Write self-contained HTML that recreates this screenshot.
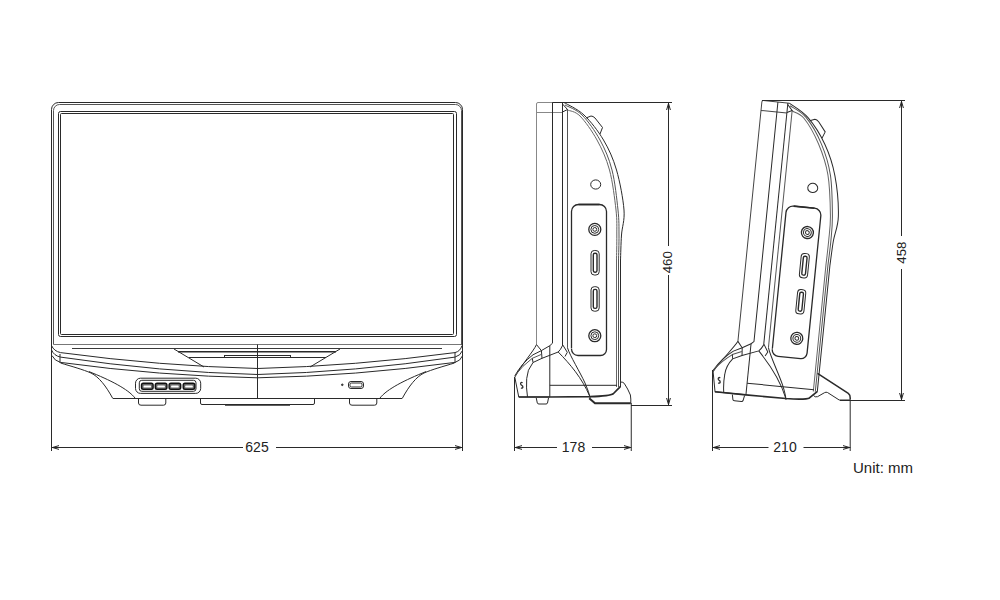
<!DOCTYPE html>
<html><head><meta charset="utf-8">
<style>
html,body{margin:0;padding:0;background:#fff;}
body{width:1000px;height:600px;overflow:hidden;}
svg{display:block;}
text{font-family:"Liberation Sans",sans-serif;fill:#222;}
</style></head>
<body>
<svg width="1000" height="600" viewBox="0 0 1000 600">
<defs>
<g id="body" fill="none" stroke="#2a2a2a" stroke-width="1">
  <!-- main vertical structure -->
  <path d="M536.5,344.6 V104 Q536.5,102.5 538,102.5 H564" style="stroke:var(--l1)"/>
  <path d="M536.5,112.5 H562.5" style="stroke:var(--l1)"/>
  <path d="M552.5,102.5 V343.2 L549.8,345.7"/>
  <path d="M562.5,102.5 V345"/>
  <path d="M567.5,109 V347.8" stroke="#555"/>
  <path d="M562.5,104 L567.5,109.5 L562.5,112"/>
  <!-- back curves -->
  <path d="M564.00,102.50 C567.33,104.58 577.42,108.75 584.00,115.00 C590.58,121.25 598.08,130.83 603.50,140.00 C608.92,149.17 613.08,158.33 616.50,170.00 C619.92,181.67 623.17,199.17 624.00,210.00 C624.83,220.83 622.08,226.67 621.50,235.00 C620.92,243.33 620.67,255.83 620.50,260.00 V387"/>
  <path d="M565.00,105.00 C567.83,106.67 576.17,109.17 582.00,115.00 C587.83,120.83 595.00,130.83 600.00,140.00 C605.00,149.17 609.00,158.33 612.00,170.00 C615.00,181.67 616.83,199.17 618.00,210.00 C619.17,220.83 618.92,226.67 619.00,235.00 C619.08,243.33 618.58,255.83 618.50,260.00 V387" stroke="#555"/>
  <path d="M567.50,110.00 C569.58,111.00 575.08,111.00 580.00,116.00 C584.92,121.00 592.08,131.00 597.00,140.00 C601.92,149.00 606.33,158.33 609.50,170.00 C612.67,181.67 614.78,199.17 616.00,210.00 C617.22,220.83 616.72,226.67 616.80,235.00 C616.88,243.33 616.55,255.83 616.50,260.00 V387" stroke="#666"/>
  <!-- tab -->
  <path d="M586,118 L591,116 Q593,116 595,118 L602.5,127.5 L600,134"/>
  <!-- small circle -->
  <ellipse cx="595.7" cy="184.5" rx="5" ry="4.6"/>
  <!-- panel -->
  <path stroke-width="1.3" d="M571.5,348.5 V211.5 A7,7 0 0 1 578.5,204.5 H599.5 A7,7 0 0 1 606.5,211.5 V349.5 A6,6 0 0 1 600.5,355.5 H578 A6.5,6.5 0 0 1 571.5,349" />
  <path d="M578.5,204.5 H599.5" stroke-width="1.6"/>
  <!-- coax 1 -->
  <circle cx="594.8" cy="229.4" r="6" stroke-width="1.3"/>
  <circle cx="594.8" cy="229.4" r="3.9"/>
  <circle cx="594.8" cy="229.4" r="1.9"/>
  <!-- port 1 -->
  <rect x="591" y="250.5" width="8.2" height="24.5" rx="3.3"/>
  <rect x="593.3" y="253.2" width="3.7" height="19" rx="1.6" stroke-width="1.4"/>
  <!-- port 2 -->
  <rect x="591" y="286.7" width="8.2" height="24.5" rx="3.3"/>
  <rect x="593.3" y="289.4" width="3.7" height="19" rx="1.6" stroke-width="1.4"/>
  <!-- coax 2 -->
  <circle cx="594.8" cy="335.7" r="6" stroke-width="1.3"/>
  <circle cx="594.8" cy="335.7" r="3.9"/>
  <circle cx="594.8" cy="335.7" r="1.9"/>
  <!-- base -->
  <path d="M536.5,344.6 C533,352 522,364 514.8,377.2 L518.75,397 H549.7"/>
  <path d="M536.5,344.6 L541.4,350.6 L542,358.3"/>
  <path d="M549.8,345.7 L541.4,350.6 L533,354.8 Q522,363 514.8,375.8"/>
  <path d="M541.4,354.4 L532.3,358.3 Q522,366 515.5,375" stroke="#555"/>
  <path d="M562.8,345 Q560.5,350 558.2,352 L542,358.3 L533,362.5 Q527,370 526.7,378.6 Q526,388 527.5,397"/>
  <path d="M532.3,358.3 L533,362.5"/>
  <path d="M562.8,345 L567.3,352.3 L565,356.5"/>
  <path d="M558.2,352 C570,364 582,378 589.6,396"/>
  <path d="M567.5,347.8 C570,356 580,372 585,383 Q589,392 590.2,398"/>
  <path d="M549.8,345.7 V397"/>
  <path d="M549.8,385.3 H617"/>
  <path d="M518.75,397 H549.7 L590,396.7 Q610,396 613.3,393.75 Q617,390 620.4,386.7" stroke-width="1.7"/>
  <path d="M536.25,398 L537.3,403 Q537.6,404 539,404 H546 Q547.2,404 547.5,403 L548.5,398"/>
  <path d="M522.6,382.8 Q520.8,381.8 520.6,383.6 Q520.6,385 521.8,385.3 Q523,385.7 522.9,387.2 Q522.4,388.6 521,387.9" stroke-width="1.3"/>
</g>
<path id="arr" d="M0.5,0 L7,-1.9 M0.5,0 L7,1.9" fill="none" stroke="#222" stroke-width="1"/>
</defs>

<g fill="none" stroke="#2a2a2a" stroke-width="1">
  <!-- ===== FRONT VIEW ===== -->
  <path d="M51.5,451 V109.5 A7,7 0 0 1 58.5,102.5 H455.5 A7,7 0 0 1 462.5,109.5 V451"/>
  <path d="M53.5,344.5 V110.5 A6,6 0 0 1 59.5,104.5 H455.5 A6,6 0 0 1 461.5,110.5 V345" stroke="#555"/>
  <rect x="58.5" y="111.5" width="398" height="225" rx="2"/>
  <rect x="60.5" y="113.5" width="393" height="221" rx="1"/>
  <path d="M53.5,344.5 H461" stroke="#777"/>
  <path d="M72,348.5 H442" stroke="#3a3a3a"/>
  <!-- trapezoid -->
  <path d="M174,349 L204,367 M340,349 L310,367"/>
  <path d="M178,351.8 H336" stroke-width="1.6"/>
  <path d="M189,357.5 H326"/>
  <rect x="224.5" y="355.5" width="66" height="2"/>
  <path d="M257.5,344.5 V398.5"/>
  <!-- bands -->
  <path d="M51.5,345.5 Q54,351.2 60.5,352.6 Q160,366 257.5,368.5 Q355,366 455,352.6 Q460.5,351.2 462,345.5"/>
  <path d="M51.5,350 Q54,355.7 60.5,357.1 Q160,372 257.5,374.5 Q355,372 455,357.1 Q460.5,355.7 462.5,350.5"/>
  <path d="M52,355.6 Q54.5,360.9 60.5,362.4 Q160,376 257.5,377.8 Q355,376 455,362.4 Q460.5,360.9 462.5,355.8"/>
  <path d="M60,354 V363 M455,352.5 V363"/>
  <!-- base curves -->
  <path d="M60.5,363 C72,366.5 83,369.5 91,373 C99,377 106,386 112.8,398.5"/>
  <path d="M89,371.6 C110,380 128,389 135,398"/>
  <path d="M454.5,363 C443,366.5 432,369.5 424,373 C416,377 409,386 402.2,398.5"/>
  <path d="M426,371.6 C405,380 387,389 380,398"/>
  <path d="M113,398.5 H402"/>
  <!-- feet -->
  <path d="M138.5,398.5 V403 Q138.5,405.2 141,405.2 H163.5 Q165.8,405.2 165.8,403 V398.5"/>
  <path d="M349.5,398.5 V403 Q349.5,405.2 352,405.2 H374.5 Q376.8,405.2 376.8,403 V398.5"/>
  <path d="M200.5,398.5 V403 Q200.5,404.5 202,404.5 H313 Q314.5,404.5 314.5,403 V398.5"/>
  <path d="M225,405 H290" stroke-width="1.5"/>
  <!-- USB panel -->
  <rect x="135.5" y="378.2" width="65.2" height="15.2" rx="5"/>
  <rect x="139.3" y="380.3" width="56.7" height="11" rx="2.5"/>
  <rect x="141.5" y="383.2" width="11.6" height="6.2" rx="1.8" fill="#666" stroke="#111" stroke-width="1.4"/>
  <rect x="143.5" y="385.6" width="7.6" height="2" rx="0.6" fill="#fff" stroke="none"/>
  <rect x="155.3" y="383.2" width="11.6" height="6.2" rx="1.8" fill="#666" stroke="#111" stroke-width="1.4"/>
  <rect x="157.3" y="385.6" width="7.6" height="2" rx="0.6" fill="#fff" stroke="none"/>
  <rect x="169.1" y="383.2" width="11.6" height="6.2" rx="1.8" fill="#666" stroke="#111" stroke-width="1.4"/>
  <rect x="171.1" y="385.6" width="7.6" height="2" rx="0.6" fill="#fff" stroke="none"/>
  <rect x="183.2" y="383.2" width="11.6" height="6.2" rx="1.8" fill="#666" stroke="#111" stroke-width="1.4"/>
  <rect x="185.2" y="385.6" width="7.6" height="2" rx="0.6" fill="#fff" stroke="none"/>
  <!-- right USB -->
  <rect x="348.5" y="381.5" width="15" height="7" rx="2.5"/>
  <rect x="350" y="383" width="12" height="4" rx="1.5"/>
  <circle cx="342.3" cy="384.8" r="0.8" fill="#555"/>

  <!-- dim 625 -->
  <path d="M51.5,447.5 H243 M276,447.5 H462.5"/>

  <!-- ===== SIDE VIEW 1 ===== -->
  <use href="#body" style="--l1:#888"/>
  <path d="M552.5,102.5 H672"/>
  <path d="M514.5,377 V451"/>
  <path d="M620.8,382 Q623,382 624.2,383.3 Q628,389 630.4,395 Q631,399 630.8,403.3"/>
  <path d="M630.8,403.3 H595 L589.2,398.3" stroke-width="2"/>
  <path d="M631,405.5 H672"/>
  <path d="M631.25,403 V451"/>
  <path d="M668.5,102.5 V246 M668.5,275 V405.5"/>
  <path d="M514.5,447.5 H557 M592,447.5 H631.25"/>

  <!-- ===== SIDE VIEW 2 ===== -->
  <use href="#body" style="--l1:#444" transform="translate(762.5,100.5) rotate(5.71) translate(-537,-102.5)"/>
  <path d="M762,100.5 H905"/>
  <path d="M712.5,370 V451"/>
  <path d="M817.5,373.3 L848.3,393.3 Q850.5,395 850.2,398 V399.8" stroke-width="1.5"/>
  <path d="M850,400 H839.2 L827.5,392.5 Q826,391.8 824.5,392.7 L817.5,396.7 Q815,397.5 813.5,395.5"/>
  <path d="M840,400.5 H905"/>
  <path d="M850.2,401 V451"/>
  <path d="M901.5,100.5 V236 M901.5,269 V400.5"/>
  <path d="M712.5,447.5 H768.5 M803.5,447.5 H850.5"/>
</g>

<!-- arrows -->
<use href="#arr" transform="translate(52,447.5)"/>
<use href="#arr" transform="translate(462,447.5) rotate(180)"/>
<use href="#arr" transform="translate(515,447.5)"/>
<use href="#arr" transform="translate(631,447.5) rotate(180)"/>
<use href="#arr" transform="translate(713,447.5)"/>
<use href="#arr" transform="translate(850,447.5) rotate(180)"/>
<use href="#arr" transform="translate(668.5,103) rotate(90)"/>
<use href="#arr" transform="translate(668.5,405) rotate(-90)"/>
<use href="#arr" transform="translate(901.5,101) rotate(90)"/>
<use href="#arr" transform="translate(901.5,400) rotate(-90)"/>

<!-- labels -->
<text x="257" y="452" font-size="14" text-anchor="middle">625</text>
<text x="573.5" y="452" font-size="14" text-anchor="middle">178</text>
<text x="785" y="452" font-size="14" text-anchor="middle">210</text>
<text transform="translate(672.3,262.2) rotate(-90)" font-size="13.3" text-anchor="middle">460</text>
<text transform="translate(905.8,252.6) rotate(-90)" font-size="13.3" text-anchor="middle">458</text>
<text x="853" y="473" font-size="15">Unit: mm</text>
</svg>
</body></html>
